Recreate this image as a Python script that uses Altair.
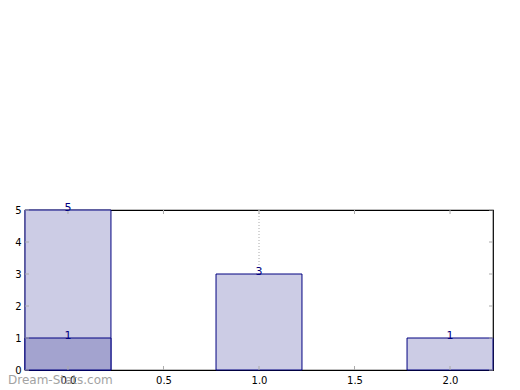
import altair as alt
import pandas as pd

categories = [0, 1, 2]
counts = [5, 3, 1]
highlight_cat = [0]
highlight_val = [1]
x_ticks = [0.0, 0.5, 1.0, 1.5, 2.0]
y_ticks = [0, 1, 2, 3, 4, 5]
grid_x = [1.0]

W, H = 468, 160
HALF = 0.225

bars_df = pd.DataFrame({"cat": categories, "count": counts})
hl_df = pd.DataFrame({"cat": highlight_cat, "count": highlight_val})
xt_df = pd.DataFrame({"t": x_ticks})
yt_df = pd.DataFrame({"t": y_ticks})
grid_df = pd.DataFrame({"g": grid_x})

xs = alt.Scale(domain=[-HALF, 2 + HALF], nice=False, zero=False)
ys = alt.Scale(domain=[0, 5], nice=False)

XA = alt.Axis(values=x_ticks, format=".1f", ticks=False, domain=False, grid=False,
              labelOverlap=False, labelFlush=False,
              labelPadding=5, labelFontSize=10, labelColor="black", labelFont="DejaVu Sans", title=None)
YA = alt.Axis(values=y_ticks, format="d", ticks=False, domain=False, grid=False,
              labelOverlap=False, labelFlush=False,
              labelPadding=4, labelFontSize=10, labelColor="black", labelFont="DejaVu Sans", title=None)


def X(f):
    return alt.X(f, scale=xs, axis=XA, title=None)


def Y(f):
    return alt.Y(f, scale=ys, axis=YA, title=None)


calc = dict(left=f"datum.cat - {HALF}", right=f"datum.cat + {HALF}")

bars = alt.Chart(bars_df).transform_calculate(**calc).mark_rect(
    fill="#ccccE5", stroke="#000080", strokeWidth=1).encode(
    x=X("left:Q"), x2="right:Q", y=Y("count:Q"), y2=alt.datum(0))

hl = alt.Chart(hl_df).transform_calculate(**calc).mark_rect(
    fill="#a3a3cf", stroke="#000080", strokeWidth=1).encode(
    x=X("left:Q"), x2="right:Q", y=Y("count:Q"), y2=alt.datum(0))

grid = alt.Chart(grid_df).mark_rule(color="#aaaaaa", strokeDash=[1, 2], strokeWidth=1).encode(
    x=X("g:Q"), y=alt.value(0), y2=alt.value(H))

tick_style = dict(color="#aaaaaa", strokeWidth=1)
xt_bottom = alt.Chart(xt_df).mark_rule(**tick_style).encode(
    x=X("t:Q"), y=alt.value(H), y2=alt.value(H - 4))
xt_top = alt.Chart(xt_df).mark_rule(**tick_style).encode(
    x=X("t:Q"), y=alt.value(0), y2=alt.value(4))
yt_left = alt.Chart(yt_df).mark_rule(**tick_style).encode(
    y=Y("t:Q"), x=alt.value(0), x2=alt.value(4))
yt_right = alt.Chart(yt_df).mark_rule(**tick_style).encode(
    y=Y("t:Q"), x=alt.value(W), x2=alt.value(W - 4))

labels = alt.Chart(bars_df).mark_text(color="#000080", fontSize=11, font="DejaVu Sans",
                                      baseline="alphabetic", dy=1).encode(
    x=X("cat:Q"), y=Y("count:Q"), text=alt.Text("count:Q"))
hl_labels = alt.Chart(hl_df).mark_text(color="#000080", fontSize=11, font="DejaVu Sans",
                                       baseline="alphabetic", dy=1).encode(
    x=X("cat:Q"), y=Y("count:Q"), text=alt.Text("count:Q"))

watermark = alt.Chart(pd.DataFrame({"w": ["Dream-Stats.com"]})).mark_text(
    color="#999999", fontSize=12, font="DejaVu Sans", align="left", baseline="middle", opacity=0.9
).encode(x=alt.value(-17), y=alt.value(H + 10), text="w:N")

chart = alt.layer(grid, bars, hl, xt_bottom, xt_top, yt_left, yt_right, labels, hl_labels, watermark).properties(
    width=W, height=H,
    autosize=alt.AutoSizeParams(type="none"),
    padding={"left": 17, "top": 202, "right": 19, "bottom": 20},
).configure_view(stroke="black", strokeWidth=1.2).configure_axis(labelOverlap=False)

chart.save("out.html", embed_options={"renderer": "svg", "actions": False})
